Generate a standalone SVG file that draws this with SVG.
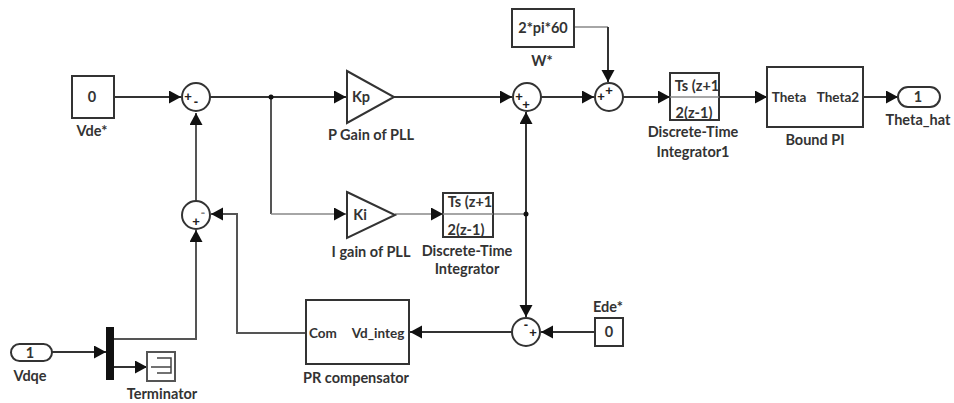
<svg xmlns="http://www.w3.org/2000/svg" width="954" height="403" viewBox="0 0 954 403">
<style>
.b{fill:#fff;stroke:#333;stroke-width:2}
.c{fill:none;stroke:#333;stroke-width:2}
.d{fill:none;stroke:#555;stroke-width:2}
.g{fill:none;stroke:#888;stroke-width:1.5}
.t{font-family:Lato,"Open Sans",sans-serif;font-size:14.500px;font-weight:700;fill:#333;text-anchor:middle}
.i{font-size:13.500px}
.s{font-family:"Liberation Sans",sans-serif;font-size:13px;font-weight:700;fill:#222;text-anchor:middle}
</style>
<defs>
<marker id="a" markerUnits="userSpaceOnUse" markerWidth="13" markerHeight="14" refX="12" refY="6.5" orient="auto"><path d="M0 0L12 6.500L0 13Z" fill="#111"/></marker>
</defs>
<rect width="954" height="403" fill="#fff"/>
<g id="connectors">
<path class="c" d="M114 97H181" marker-end="url(#a)"/>
<path class="c" d="M210 97H346" marker-end="url(#a)"/>
<path class="d" d="M271 97V214"/><path class="g" d="M271 214H346" marker-end="url(#a)"/>
<path class="c" d="M394 97H512" marker-end="url(#a)"/>
<path class="c" d="M541 97H594" marker-end="url(#a)"/>
<path class="g" d="M574 27H608"/><path class="c" d="M608 27V82" marker-end="url(#a)"/>
<path class="c" d="M623 97H670" marker-end="url(#a)"/>
<path class="c" d="M719 97H767" marker-end="url(#a)"/>
<path class="c" d="M863 97H898" marker-end="url(#a)"/>
<path class="g" d="M395 214H443" marker-end="url(#a)"/>
<path class="g" d="M493 214H526"/>
<path class="c" d="M526 214V112" marker-end="url(#a)"/>
<path class="c" d="M526 214V317" marker-end="url(#a)"/>
<path class="c" d="M595 332H541" marker-end="url(#a)"/>
<path class="c" d="M512 332H410" marker-end="url(#a)"/>
<path class="d" d="M306 333H237V214H211" marker-end="url(#a)"/>
<path class="d" d="M196 201V113" marker-end="url(#a)"/>
<path class="d" d="M114 339H196V230" marker-end="url(#a)"/>
<path class="c" d="M52 352H106" marker-end="url(#a)"/>
<path class="c" d="M114 367H147" marker-end="url(#a)"/>
<circle cx="271" cy="97" r="2.500" fill="#111"/><circle cx="526" cy="214" r="2.500" fill="#111"/>
</g>
<g id="vde"><rect class="b" x="72" y="76" width="42" height="42"/><text class="t" x="92" y="102">0</text><text class="t" x="92" y="136">Vde*</text></g>
<g id="sum1"><circle class="b" cx="196" cy="97" r="14"/><text class="s" x="188" y="101">+</text><text class="s" x="196" y="106">-</text></g>
<g id="sum4"><circle class="b" cx="196" cy="215" r="14"/><text class="s" x="203" y="217" style="fill:#888">-</text><text class="s" x="196" y="226">+</text></g>
<g id="kp"><path class="b" d="M347 71L394 97L347 123Z"/><text class="t" x="361" y="102">Kp</text><text class="t" x="371" y="140">P Gain of PLL</text></g>
<g id="sum2"><circle class="b" cx="527" cy="97" r="14"/><text class="s" x="519" y="101">+</text><text class="s" x="526" y="109">+</text></g>
<g id="w"><rect class="b" x="512" y="9" width="62" height="38"/><text class="t" x="543" y="33">2*pi*60</text><text class="t" x="542" y="66">W*</text></g>
<g id="sum3"><circle class="b" cx="609" cy="97" r="14"/><text class="s" x="601" y="101">+</text><text class="s" x="609" y="95">+</text></g>
<g id="int1"><rect class="b" x="670" y="73" width="49" height="47"/><path class="g" d="M670 97H719"/><text class="t" x="697" y="91">Ts (z+1</text><text class="t" x="694" y="118">2(z-1)</text><text class="t" x="693" y="137">Discrete-Time</text><text class="t" x="693" y="157">Integrator1</text></g>
<g id="bound"><rect class="b" x="767" y="67" width="96" height="60"/><text class="t i" x="789" y="102">Theta</text><text class="t i" x="838" y="102">Theta2</text><text class="t" x="815" y="145">Bound PI</text></g>
<g id="out"><rect class="b" x="898" y="87" width="42" height="20" rx="10"/><text class="t" x="918" y="102">1</text><text class="t" x="918" y="125">Theta_hat</text></g>
<g id="ki"><path class="b" d="M347 192L395 215L347 238Z"/><text class="t" x="360" y="220">Ki</text><text class="t" x="371" y="257">I gain of PLL</text></g>
<g id="int"><rect class="b" x="443" y="193" width="50" height="44"/><path class="g" d="M443 214H493"/><text class="t" x="470" y="207">Ts (z+1</text><text class="t" x="466" y="235">2(z-1)</text><text class="t" x="467" y="256">Discrete-Time</text><text class="t" x="467" y="274">Integrator</text></g>
<g id="sum5"><circle class="b" cx="526" cy="332" r="14"/><text class="s" x="526" y="329">-</text><text class="s" x="533" y="337">+</text></g>
<g id="ede"><rect class="b" x="595" y="318" width="28" height="28"/><text class="t" x="609" y="337">0</text><text class="t" x="608" y="312">Ede*</text></g>
<g id="pr"><rect class="b" x="306" y="300" width="103" height="64"/><text class="t i" x="323" y="338">Com</text><text class="t i" x="378" y="338">Vd_integ</text><text class="t" x="356" y="383">PR compensator</text></g>
<g id="vdqe"><rect class="b" x="11" y="344" width="41" height="17" rx="8.500"/><text class="t" x="30" y="358">1</text><text class="t" x="30" y="381">Vdqe</text></g>
<g id="mux"><rect x="106" y="327" width="8" height="53" fill="#111"/></g>
<g id="term"><rect class="b" x="147" y="352" width="28" height="29" style="stroke:#555"/><path d="M157 358H171V373H157M151 367H171" fill="none" stroke="#444" stroke-width="1.500"/><text class="t" x="162" y="399">Terminator</text></g>
</svg>
